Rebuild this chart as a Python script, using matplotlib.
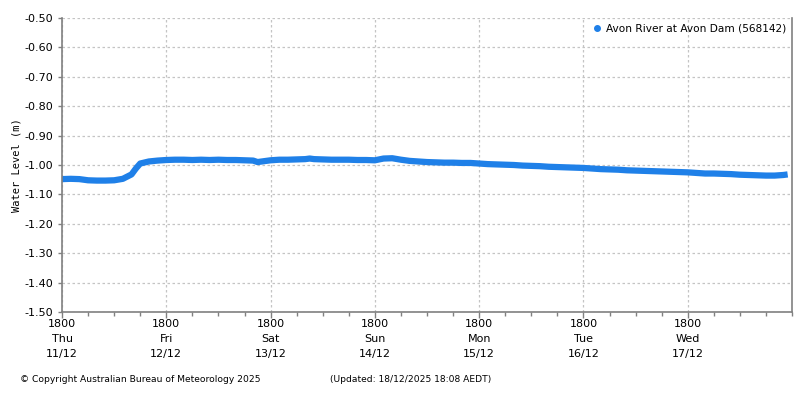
import numpy as np
import matplotlib.pyplot as plt
from matplotlib.ticker import MultipleLocator

# jam sejak Kamis 11/12 18:00, tiap 2 jam
jam = [0, 2, 4, 6, 8, 10, 12, 14, 16, 17, 18, 20, 22, 24, 26, 28, 30, 32, 34, 36,
       38, 40, 42, 44, 45, 46, 48, 50, 52, 54, 56, 57, 58, 60, 62, 64, 66, 68, 70,
       72, 74, 76, 78, 80, 82, 84, 86, 88, 90, 92, 94, 96, 98, 100, 102, 104, 106,
       108, 110, 112, 114, 116, 118, 120, 122, 124, 126, 128, 130, 132, 134, 136,
       138, 140, 142, 144, 146, 148, 150, 152, 154, 156, 158, 160, 162, 164, 166, 167]
level = [-1.048, -1.047, -1.048, -1.052, -1.053, -1.053, -1.052, -1.047, -1.032, -1.012,
         -0.995, -0.988, -0.985, -0.983, -0.982, -0.982, -0.983, -0.982, -0.983, -0.982,
         -0.983, -0.983, -0.984, -0.985, -0.990, -0.988, -0.984, -0.982, -0.982, -0.981,
         -0.980, -0.978, -0.980, -0.981, -0.982, -0.982, -0.982, -0.983, -0.983,
         -0.984, -0.978, -0.977, -0.982, -0.986, -0.988, -0.990, -0.991, -0.992, -0.992,
         -0.993, -0.993, -0.995, -0.997, -0.998, -0.999, -1.000, -1.002, -1.003, -1.004,
         -1.006, -1.007, -1.008, -1.009, -1.010, -1.012, -1.014, -1.015, -1.016, -1.018,
         -1.019, -1.020, -1.021, -1.022, -1.023, -1.024, -1.025, -1.027, -1.029, -1.029,
         -1.030, -1.031, -1.033, -1.034, -1.035, -1.036, -1.036, -1.034, -1.032]

hari = ["1800\nThu\n11/12", "1800\nFri\n12/12", "1800\nSat\n13/12", "1800\nSun\n14/12",
        "1800\nMon\n15/12", "1800\nTue\n16/12", "1800\nWed\n17/12"]
nama_seri = "Avon River at Avon Dam (568142)"
biru = "#1f80e8"
abu = "#808080"

fig = plt.figure(figsize=(8, 4), dpi=100)
ax = fig.add_axes([0.0775, 0.22, 0.9125, 0.735])

ax.plot(jam, level, color=biru, lw=4.5, solid_capstyle="butt")
ax.plot([], [], "o", color=biru, ms=4, label=nama_seri)

ax.set_xlim(0, 168)
ax.set_ylim(-1.5, -0.5)
ax.set_xticks(np.arange(0, 168, 24))
ax.set_xticklabels(hari, fontsize=8, linespacing=1.6)
ax.xaxis.set_minor_locator(MultipleLocator(6))
ax.set_yticks(np.arange(-1.5, -0.49, 0.1))
ax.set_yticklabels(["%.2f" % v for v in np.arange(-1.5, -0.49, 0.1)], fontsize=8)
ax.tick_params(axis="both", which="both", color=abu, length=3, width=1)
ax.tick_params(axis="x", which="major", length=4, pad=1)
ax.tick_params(axis="x", which="minor", length=3)

ax.grid(True, color="#c4c4c4", linestyle=(0, (2, 2)), linewidth=0.9)
ax.set_axisbelow(True)
for s in ["left", "bottom", "right"]:
    ax.spines[s].set_color(abu)
    ax.spines[s].set_linewidth(1.2)
ax.spines["top"].set_visible(False)

ax.set_ylabel("Water Level (m)", fontsize=7.5, family="DejaVu Sans Mono", labelpad=2)

ax.legend(loc="upper right", frameon=False, fontsize=7.6, handletextpad=0.4,
          borderaxespad=0.1, handlelength=1)

fig.text(0.025, 0.045, "\u00a9 Copyright Australian Bureau of Meteorology 2025", fontsize=6.6)
fig.text(0.412, 0.045, "(Updated: 18/12/2025 18:08 AEDT)", fontsize=6.6)

fig.savefig("out.png")
